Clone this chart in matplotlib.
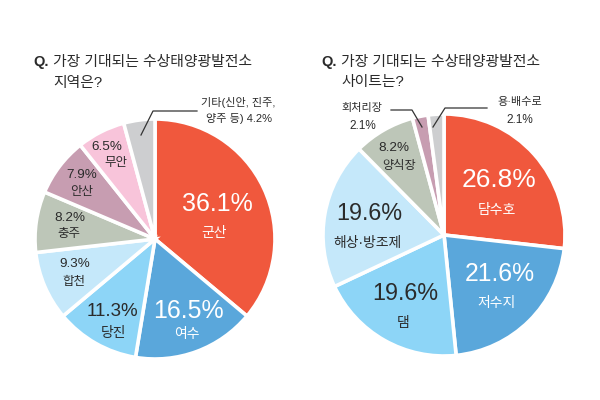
import matplotlib
matplotlib.use("Agg")
import matplotlib.pyplot as plt


plt.rcParams["font.family"] = ["Liberation Sans", "Noto Sans CJK KR", "DejaVu Sans"]

COR_TEXTO = "#2b2b2b"
COR_LINHA = "#333333"

# valor, cor, rotulo do valor (x, y, fonte, cor), rotulo do nome (x, y, fonte, cor)
REGIOES = [
    (36.1, "#F0583D", "36.1%", (217, 204, 18, "white"), "군산", (214, 233, 10, "white")),
    (16.5, "#5AA7DB", "16.5%", (188, 311, 18, "white"), "여수", (187, 334, 10, "white")),
    (11.3, "#8DD5F7", "11.3%", (112, 311, 13.5, COR_TEXTO), "당진", (113, 333, 10, COR_TEXTO)),
    (9.3, "#C5E8FA", "9.3%", (75, 264, 9.7, COR_TEXTO), "합천", (74, 282, 9, COR_TEXTO)),
    (8.2, "#BDC6B8", "8.2%", (70, 218, 9.7, COR_TEXTO), "충주", (69, 234, 9, COR_TEXTO)),
    (7.9, "#C79DB1", "7.9%", (82, 175, 9.7, COR_TEXTO), "안산", (82, 192, 9, COR_TEXTO)),
    (6.5, "#F8C4DA", "6.5%", (107, 147, 9.7, COR_TEXTO), "무안", (116, 163, 9, COR_TEXTO)),
    (4.2, "#CDCED0", None, None, None, None),
]

SITIOS = [
    (26.8, "#F0583D", "26.8%", (499, 180, 19, "white"), "담수호", (497, 210, 10, "white")),
    (21.6, "#5AA7DB", "21.6%", (500, 274, 17.8, "white"), "저수지", (497, 303, 10, "white")),
    (19.6, "#8DD5F7", "19.6%", (405, 293, 16.8, COR_TEXTO), "댐", (403, 323, 10, COR_TEXTO)),
    (19.6, "#C5E8FA", "19.6%", (369, 214, 16.8, COR_TEXTO), "해상·방조제", (367, 243, 10, COR_TEXTO)),
    (8.2, "#BDC6B8", "8.2%", (394, 148, 9.7, COR_TEXTO), "양식장", (399, 166, 8.8, COR_TEXTO)),
    (2.1, "#C79DB1", None, None, None, None),
    (2.1, "#CDCED0", None, None, None, None),
]


def texto(ax, x, y, s, fonte, cor=COR_TEXTO, ha="center", peso="normal"):
    ax.text(x, 400 - y, s, ha=ha, va="center", fontsize=fonte, color=cor, fontweight=peso)


def linha(ax, xs, ys):
    ax.plot(xs, [400 - y for y in ys], color=COR_LINHA, linewidth=0.9, zorder=4)


def desenhar_pizza(ax, dados, cx, cy, raio):
    valores = [d[0] for d in dados]
    cores = [d[1] for d in dados]
    ax.pie(valores, colors=cores, startangle=90, counterclock=False,
           center=(cx, 400 - cy), radius=raio, frame=True,
           wedgeprops=dict(edgecolor="white", linewidth=2.6))

    for _, _, rotulo, pos_r, nome, pos_n in dados:
        if rotulo is None:
            continue
        texto(ax, pos_r[0], pos_r[1], rotulo, pos_r[2], pos_r[3])
        texto(ax, pos_n[0], pos_n[1], nome, pos_n[2], pos_n[3])


def main():
    fig = plt.figure(figsize=(6, 4), dpi=100)
    ax = fig.add_axes([0, 0, 1, 1])

    desenhar_pizza(ax, REGIOES, 155, 239, 120)
    desenhar_pizza(ax, SITIOS, 444, 235, 121)

    # titulos
    texto(ax, 33, 62, "Q.", 10.5, ha="left", peso="bold")
    texto(ax, 53, 62, "가장 기대되는 수상태양광발전소", 10.7, ha="left")
    texto(ax, 53, 83, "지역은?", 10.7, ha="left")
    texto(ax, 321, 62, "Q.", 10.5, ha="left", peso="bold")
    texto(ax, 341, 62, "가장 기대되는 수상태양광발전소", 10.7, ha="left")
    texto(ax, 341, 82, "사이트는?", 10.7, ha="left")

    # rotulos externos
    texto(ax, 238, 102, "기타(신안, 진주,", 8)
    texto(ax, 239, 118, "양주 등) 4.2%", 8)
    linha(ax, [141, 153, 197], [135, 111, 111])

    texto(ax, 362, 108, "회처리장", 8)
    texto(ax, 363, 126, "2.1%", 8.5)
    linha(ax, [391, 412, 422], [110, 110, 127])

    texto(ax, 520, 102, "용·배수로", 8)
    texto(ax, 520, 120, "2.1%", 8.5)
    linha(ax, [433, 445, 487], [127, 108, 108])

    ax.set_xlim(0, 600)
    ax.set_ylim(0, 400)
    ax.set_aspect("auto")
    ax.axis("off")

    plt.savefig("out.png", dpi=100)
    plt.close()


if __name__ == "__main__":
    main()
